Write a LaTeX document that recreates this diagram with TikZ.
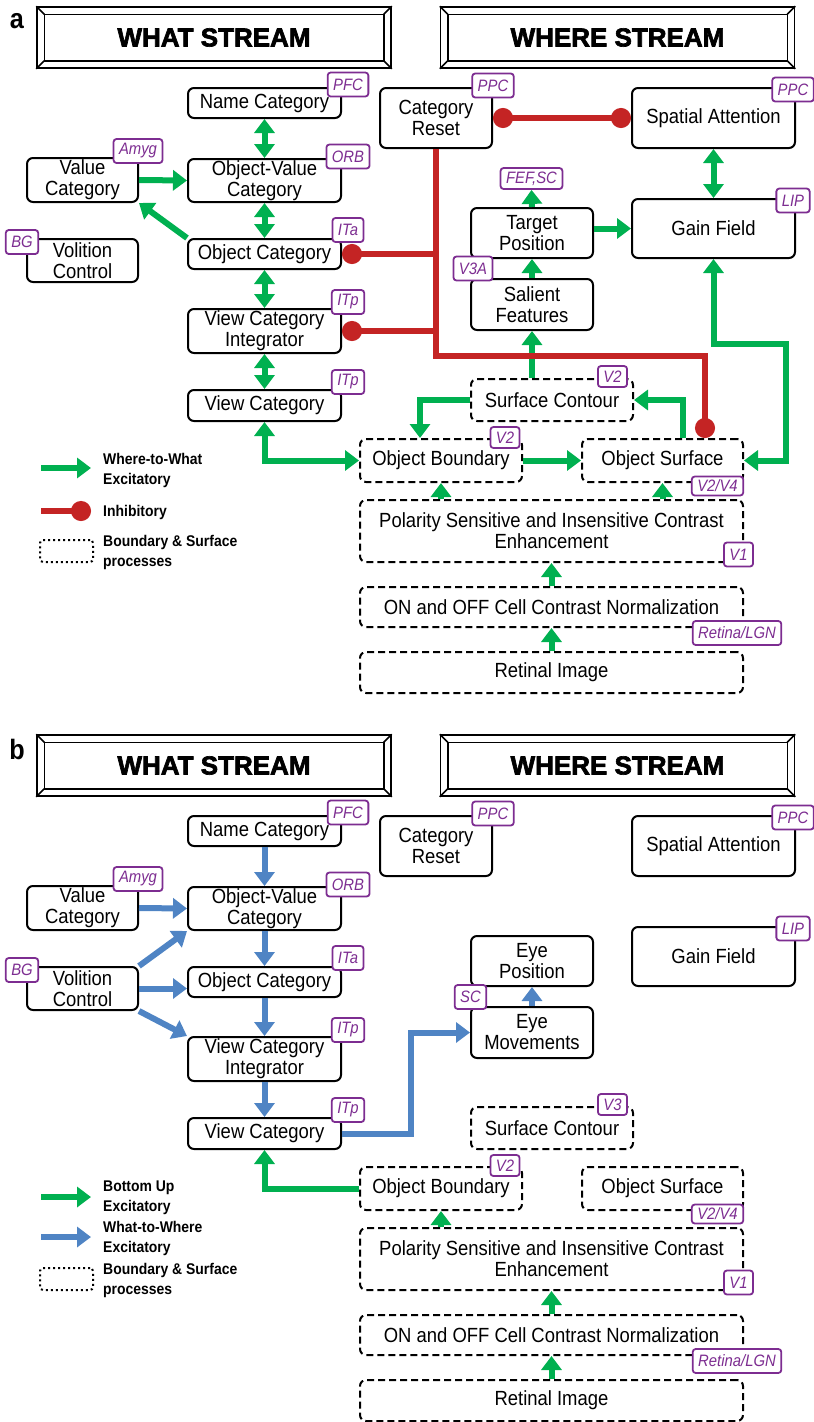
\documentclass[tikz,border=0pt]{standalone}
\usepackage{fontspec}
\setmainfont{Liberation Sans}[FakeStretch=0.9]
\newfontfamily\headfamily{Liberation Sans}[BoldFeatures={FakeBold=2.5}]
\usetikzlibrary{arrows.meta}

\definecolor{excgreen}{RGB}{0,176,80}
\definecolor{inhred}{RGB}{196,36,36}
\definecolor{wwblue}{RGB}{79,132,196}
\definecolor{areapurple}{RGB}{125,45,145}

\newcommand{\boxfont}{\fontsize{20.5}{21}\selectfont}
\newcommand{\tagfont}{\fontsize{16.5}{16.5}\selectfont\itshape}
\newcommand{\legfont}{\fontsize{15.5}{20}\selectfont\bfseries}
\newcommand{\headfont}{\headfamily\fontsize{26}{26}\selectfont\bfseries}

% nodes that both panels have
\newcommand{\streamnodes}{%
  \node[header] (what) at (214,37.5) {WHAT STREAM};
  \node[header] (where) at (617.5,37.5) {WHERE STREAM};
  \foreach \h in {what,where} {
    \draw[line width=1.5pt] ([shift={(8pt,-8pt)}]\h.north west) rectangle ([shift={(-8pt,8pt)}]\h.south east);
    \draw[line width=1.5pt] (\h.north west) -- ++(8,8);
    \draw[line width=1.5pt] (\h.north east) -- ++(-8,8);
    \draw[line width=1.5pt] (\h.south west) -- ++(8,-8);
    \draw[line width=1.5pt] (\h.south east) -- ++(-8,-8);
  }

  \node[box, minimum width=153pt, minimum height=30pt] (name) at (264.5,103) {Name Category};
  \node[box, minimum width=153pt, minimum height=43pt] (objval) at (264.5,180.5) {Object-Value\\Category};
  \node[box, minimum width=111pt, minimum height=44pt] (value) at (82.5,180) {Value\\Category};
  \node[box, minimum width=111pt, minimum height=43pt] (volition) at (82.5,260.5) {Volition\\Control};
  \node[box, minimum width=153pt, minimum height=30pt] (objcat) at (264.5,254) {Object Category};
  \node[box, minimum width=153pt, minimum height=44pt] (vci) at (264.5,331) {View Category\\Integrator};
  \node[box, minimum width=153pt, minimum height=31pt] (view) at (264.5,405.5) {View Category};
  \node[box, minimum width=112pt, minimum height=60pt] (reset) at (436,118) {Category\\Reset};
  \node[box, minimum width=163pt, minimum height=60pt] (spatial) at (713.5,118) {Spatial Attention};
  \node[box, minimum width=163pt, minimum height=59pt] (gain) at (713.5,228.5) {Gain Field};

  \node[dbox, minimum width=162pt, minimum height=42pt] (contour) at (552,400) {Surface Contour};
  \node[dbox, minimum width=162pt, minimum height=43pt] (boundary) at (441,460.5) {Object Boundary};
  \node[dbox, minimum width=161pt, minimum height=43pt] (surface) at (662.5,460.5) {Object Surface};
  \node[dbox, minimum width=383pt, minimum height=62pt] (polarity) at (551.5,531) {Polarity Sensitive and Insensitive Contrast\\Enhancement};
  \node[dbox, minimum width=383pt, minimum height=40pt] (onoff) at (551.5,607) {ON and OFF Cell Contrast Normalization};
  \node[dbox, minimum width=383pt, minimum height=41pt] (retinal) at (551.5,672.5) {Retinal Image};

  \node[tag] (pfc) at (348,84.5) {PFC};
  \node[tag] (orb) at (348,156.5) {ORB};
  \node[tag] (amyg) at (138,151) {Amyg};
  \node[tag] (bg) at (22,242) {BG};
  \node[tag] (ita) at (348,230) {ITa};
  \node[tag] (itp) at (348,302) {ITp};
  \node[tag] (itpview) at (348,382) {ITp};
  \node[tag] (ppcreset) at (493,85.5) {PPC};
  \node[tag] (ppcspatial) at (793,89.5) {PPC};
  \node[tag] (lip) at (793,200.5) {LIP};
  \node[tag, minimum height=21pt] (v2bound) at (505,437.5) {V2};
  \node[tag, minimum height=19pt] (v2v4) at (717.5,486) {V2/V4};
  \node[tag] (v1) at (738.5,554.5) {V1};
  \node[tag] (retlgn) at (737,633) {Retina/LGN};

  \draw[exc] (polarity.north -| boundary.south) -- (boundary.south);
  \draw[exc] (onoff.north) -- (polarity.south);
  \draw[exc] (retinal.north) -- (onoff.south);

  \node[legbox] (legdots) at (66.5,551) {};
  \node[legtext] (legdotstext) at (103,552) {Boundary \& Surface\\processes};
}

\begin{document}
\begin{tikzpicture}[%
      x=1pt, y=-1pt,
      box/.style={draw, line width=2pt, rounded corners=6pt, align=center, font=\boxfont, inner sep=1pt},
      dbox/.style={box, dash pattern=on 7pt off 4pt},
      tag/.style={draw=areapurple, text=areapurple, fill=white, line width=1.8pt, rounded corners=3pt,
        font=\tagfont, inner xsep=5.5pt, inner ysep=0pt, minimum height=24pt},
      header/.style={draw, line width=1.5pt, font=\headfont, minimum width=354pt, minimum height=61pt},
      panel/.style={font=\fontsize{28}{28}\selectfont\bfseries},
      legtext/.style={anchor=west, align=left, font=\legfont, inner sep=0pt},
      legbox/.style={draw, line width=2pt, dash pattern=on 2pt off 3pt, rounded corners=3pt,
        minimum width=53pt, minimum height=22pt, inner sep=0pt},
      exc/.style={line width=6pt, excgreen, -{Triangle[width=20pt,length=14pt]}},
      excboth/.style={exc, {Triangle[width=20pt,length=14pt]}-{Triangle[width=20pt,length=14pt]}},
      ww/.style={line width=6pt, wwblue, -{Triangle[width=20pt,length=14pt]}},
      inh/.style={line width=6pt, inhred, -{Circle[length=20pt]}},
      inhstart/.style={line width=6pt, inhred, {Circle[length=20pt]}-},
      inhboth/.style={line width=6pt, inhred, {Circle[length=20pt]}-{Circle[length=20pt]}},
      ]
      \useasboundingbox (0,0) rectangle (814,1422);

      % panel a
      \begin{scope}[name prefix=a-]
      \streamnodes
      \node[panel] (panel) at (17,21) {a};
      \node[box, minimum width=122pt, minimum height=50pt] (target) at (532,233) {Target\\Position};
      \node[box, minimum width=122pt, minimum height=51pt] (salient) at (532,304.5) {Salient\\Features};
      \node[tag, minimum height=21pt] (fefsc) at (531.5,178.5) {FEF,SC};
      \node[tag] (v3a) at (473,268.5) {V3A};
      \node[tag, minimum height=21pt] (v2cont) at (612.5,376.5) {V2};

      \draw[excboth] (name.south) -- (objval.north);
      \draw[excboth] (objval.south) -- (objcat.north);
      \draw[excboth] (objcat.south) -- (vci.north);
      \draw[excboth] (vci.south) -- (view.north);
      \draw[exc] (value.east) -- (objval.west);
      \draw[exc] (objcat.north west) -- (value.south east);
      \draw[excboth] (view.south) |- (boundary.west);
      \draw[exc] (boundary.east) -- (surface.west);
      \draw[exc] (contour.west) -| ([xshift=-21pt]boundary.north);
      \draw[exc] ([xshift=20pt]surface.north) |- (contour.east);
      \draw[exc] (salient.south |- contour.north) -- (salient.south);
      \draw[exc] (salient.north) -- (target.south);
      \draw[exc] (target.north) -- (fefsc.south);
      \draw[exc] (gain.west -| target.east) -- (gain.west);
      \draw[excboth] (spatial.south) -- (gain.north);
      \draw[excboth] (gain.south) |- ++(72.5,85) |- (surface.east);
      \draw[exc] (polarity.north -| surface.south) -- (surface.south);

      \draw[inhboth] (reset.east) -- (spatial.west);
      \draw[inh] (reset.south) -- ++(0,207) -| ([xshift=42.5pt]surface.north);
      \draw[inhstart] (objcat.east) -- (objcat.east -| reset.south);
      \draw[inhstart] (vci.east) -- (vci.east -| reset.south);

      % legend
      \coordinate (leg1) at (41,468);
      \coordinate (leg1end) at (91,468);
      \draw[exc] (leg1) -- (leg1end);
      \node[legtext] (leg1text) at (103,470) {Where-to-What\\Excitatory};
      \coordinate (leg2) at (41,511);
      \coordinate (leg2end) at (91,511);
      \draw[inh] (leg2) -- (leg2end);
      \node[legtext] (leg2text) at (103,512) {Inhibitory};
      \end{scope}

      % panel b
      \begin{scope}[yshift=-728pt, name prefix=b-]
      \streamnodes
      \node[panel] (panel) at (17,21) {b};
      \node[box, minimum width=122pt, minimum height=50pt] (eyepos) at (532,233) {Eye\\Position};
      \node[box, minimum width=122pt, minimum height=51pt] (eyemov) at (532,304.5) {Eye\\Movements};
      \node[tag] (sc) at (470.5,269) {SC};
      \node[tag, minimum height=21pt] (v3cont) at (612.5,376.5) {V3};

      \draw[ww] (name.south) -- (objval.north);
      \draw[ww] (objval.south) -- (objcat.north);
      \draw[ww] (objcat.south) -- (vci.north);
      \draw[ww] (vci.south) -- (view.north);
      \draw[ww] (value.east) -- (objval.west);
      \draw[ww] (volition.north east) -- (objval.south west);
      \draw[ww] (volition.east) -- (volition.east -| objcat.west);
      \draw[ww] (volition.south east) -- (vci.north west);
      \draw[ww] (view.east) -| ([xshift=-59pt]eyemov.west) -- (eyemov.west);
      \draw[ww] (eyemov.north) -- (eyepos.south);
      \draw[exc] (boundary.west) -| (view.south);

      % legend
      \coordinate (leg1) at (41,469);
      \coordinate (leg1end) at (91,469);
      \draw[exc] (leg1) -- (leg1end);
      \node[legtext] (leg1text) at (103,470) {Bottom Up\\Excitatory};
      \coordinate (leg2) at (41,509);
      \coordinate (leg2end) at (91,509);
      \draw[ww] (leg2) -- (leg2end);
      \node[legtext] (leg2text) at (103,510) {What-to-Where\\Excitatory};
      \end{scope}
\end{tikzpicture}
\end{document}
